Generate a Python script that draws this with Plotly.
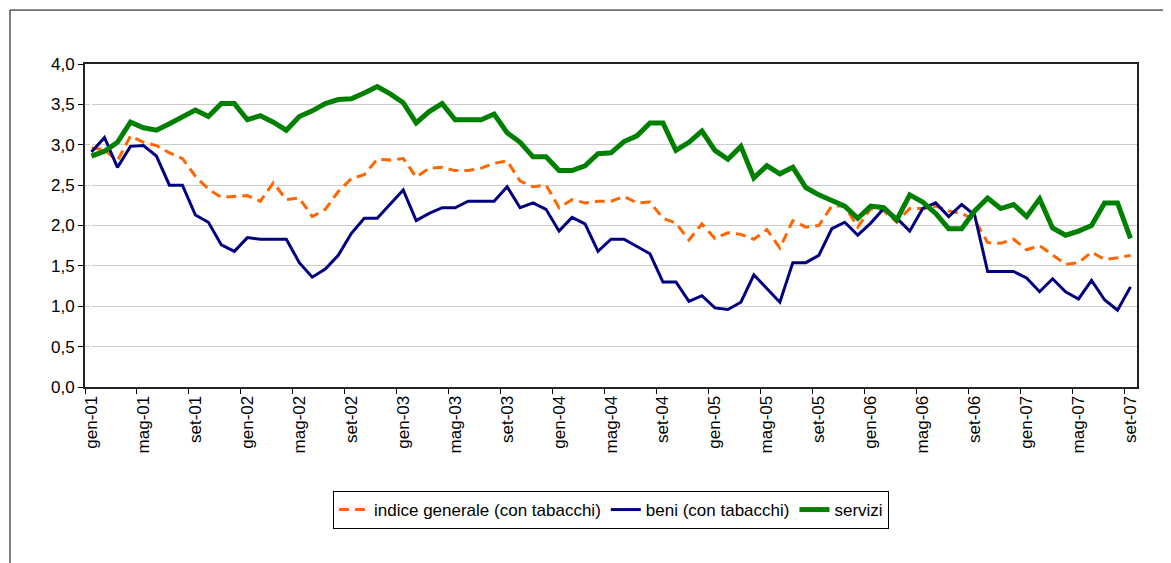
import plotly.graph_objects as go

# monthly values, gen-01 .. set-07
months = ["gen", "feb", "mar", "apr", "mag", "giu", "lug", "ago", "set", "ott", "nov", "dic"]
periods = [m + "-" + y for y in ["01", "02", "03", "04", "05", "06", "07"] for m in months][:81]

tick_labels = ["gen-01", "mag-01", "set-01", "gen-02", "mag-02", "set-02", "gen-03",
               "mag-03", "set-03", "gen-04", "mag-04", "set-04", "gen-05", "mag-05",
               "set-05", "gen-06", "mag-06", "set-06", "gen-07", "mag-07", "set-07"]

indice_generale = [2.96, 2.94, 2.80, 3.11, 3.03, 2.99, 2.90, 2.83, 2.61, 2.45,
                   2.35, 2.36, 2.37, 2.30, 2.53, 2.32, 2.34, 2.11, 2.20, 2.42,
                   2.58, 2.63, 2.82, 2.81, 2.83, 2.60, 2.71, 2.72, 2.68, 2.68,
                   2.71, 2.77, 2.80, 2.55, 2.48, 2.50, 2.22, 2.32, 2.28, 2.30,
                   2.30, 2.36, 2.28, 2.29, 2.09, 2.03, 1.82, 2.02, 1.84, 1.91,
                   1.89, 1.83, 1.95, 1.72, 2.06, 1.98, 2.00, 2.24, 2.24, 1.98,
                   2.21, 2.18, 2.04, 2.21, 2.21, 2.24, 2.18, 2.15, 2.07, 1.79,
                   1.78, 1.83, 1.70, 1.75, 1.63, 1.52, 1.54, 1.67, 1.58, 1.60,
                   1.63]

beni = [2.91, 3.09, 2.72, 2.98, 2.99, 2.86, 2.50, 2.50, 2.13, 2.04,
        1.76, 1.68, 1.85, 1.83, 1.83, 1.83, 1.54, 1.36, 1.46, 1.63,
        1.90, 2.09, 2.09, 2.26, 2.44, 2.06, 2.15, 2.22, 2.22, 2.30,
        2.30, 2.30, 2.48, 2.22, 2.28, 2.20, 1.93, 2.10, 2.02, 1.68,
        1.83, 1.83, 1.74, 1.65, 1.30, 1.30, 1.06, 1.13, 0.98, 0.96,
        1.05, 1.39, 1.22, 1.05, 1.54, 1.54, 1.63, 1.96, 2.04, 1.88,
        2.03, 2.21, 2.09, 1.93, 2.21, 2.28, 2.11, 2.26, 2.13, 1.43,
        1.43, 1.43, 1.35, 1.18, 1.34, 1.18, 1.09, 1.32, 1.08, 0.95,
        1.24]

servizi = [2.86, 2.92, 3.03, 3.28, 3.21, 3.18, 3.26, 3.34, 3.43, 3.35,
           3.51, 3.51, 3.31, 3.36, 3.28, 3.18, 3.35, 3.42, 3.51, 3.56,
           3.57, 3.64, 3.72, 3.63, 3.52, 3.27, 3.41, 3.51, 3.31, 3.31,
           3.31, 3.38, 3.15, 3.03, 2.85, 2.85, 2.68, 2.68, 2.74, 2.89,
           2.90, 3.04, 3.11, 3.27, 3.27, 2.93, 3.03, 3.17, 2.93, 2.82,
           2.98, 2.59, 2.74, 2.64, 2.72, 2.47, 2.38, 2.31, 2.24, 2.09,
           2.24, 2.22, 2.07, 2.38, 2.29, 2.15, 1.96, 1.96, 2.18, 2.34,
           2.21, 2.26, 2.11, 2.33, 1.97, 1.88, 1.93, 2.00, 2.28, 2.28,
           1.84]

x = list(range(len(periods)))

fig = go.Figure()
fig.add_trace(go.Scatter(x=x, y=indice_generale, mode="lines", name="indice generale (con tabacchi)",
                         text=periods, line=dict(color="#FF6600", width=3, dash="10px,6px")))
fig.add_trace(go.Scatter(x=x, y=beni, mode="lines", name="beni (con tabacchi)",
                         text=periods, line=dict(color="#000080", width=3)))
fig.add_trace(go.Scatter(x=x, y=servizi, mode="lines", name="servizi",
                         text=periods, line=dict(color="#008000", width=5)))

font = "Arial, Liberation Sans, sans-serif"

# page body has an 8px margin, so the figure is a bit smaller than the window
fig.update_layout(
    width=1163, height=555,
    margin=dict(l=77, r=34, t=56, b=176),
    paper_bgcolor="white", plot_bgcolor="white",
    separators=",.",
    font=dict(family=font, size=17, color="black"),
    showlegend=True,
    legend=dict(orientation="h", x=0.5, xanchor="center", y=-0.322, yanchor="top",
                bordercolor="black", borderwidth=1, font=dict(size=17)),
    shapes=[dict(type="rect", xref="paper", yref="paper", x0=-0.0713, x1=1.1,
                 y0=-0.7, y1=1.167, line=dict(color="black", width=1))],
)

fig.update_xaxes(range=[-0.5, 80.5], tickmode="array", tickvals=list(range(0, 81, 4)),
                 ticktext=tick_labels, tickangle=-90, ticks="", showgrid=False,
                 showline=True, linecolor="#222", linewidth=2, mirror=True,
                 tickfont=dict(size=17),
                 minor=dict(tickmode="array", tickvals=[i - 0.5 for i in range(0, 81, 4)],
                            ticks="outside", ticklen=5, tickcolor="black", showgrid=False))
fig.update_yaxes(range=[0, 4], dtick=0.5, tickformat=".1f", ticks="outside", ticklen=5,
                 tickcolor="black", showgrid=True, gridcolor="#CCCCCC", gridwidth=1,
                 showline=True, linecolor="#222", linewidth=2, mirror=True,
                 zeroline=False, tickfont=dict(size=17))

fig.write_html("out.html")
